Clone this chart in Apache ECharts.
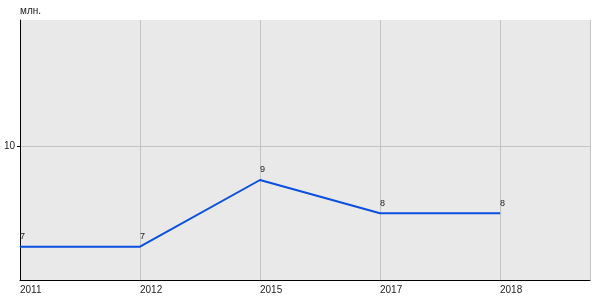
<!DOCTYPE html>
<html><head><meta charset="utf-8">
<script src="https://cdn.jsdelivr.net/npm/echarts@6/dist/echarts.min.js"></script>
<style>html,body{margin:0;padding:0;background:#fff}#c{width:600px;height:300px}</style>
</head><body><div id="c"></div>
<script>
const years = ['2011', '2012', '2015', '2017', '2018'];
const values = [7, 7, 9, 8, 8];
const yTicks = [10];
const unitName = 'млн.';

const chart = echarts.init(document.getElementById('c'), null, {renderer: 'canvas'});
const font = 'Liberation Sans, Arial, sans-serif';
chart.setOption({
  animation: false,
  grid: {left: 20, right: 10, top: 20, bottom: 20, show: true, backgroundColor: '#e9e9e9', borderWidth: 0},
  xAxis: {
    type: 'value', min: 0, max: 4.75, interval: 1,
    axisLine: {show: true, onZero: false, lineStyle: {color: '#000', width: 1}},
    axisTick: {show: false},
    splitLine: {show: true, lineStyle: {color: '#c4c4c4', width: 1}},
    axisLabel: {
      color: '#222', fontSize: 10, fontFamily: font, align: 'left', margin: 5,
      showMaxLabel: false,
      formatter: v => (Number.isInteger(v) && years[v] !== undefined) ? years[v] : ''
    }
  },
  yAxis: {
    type: 'value', min: 6, max: 13.8,
    name: unitName, nameLocation: 'end', nameGap: 4,
    nameTextStyle: {color: '#222', fontSize: 10, fontFamily: font, align: 'left', padding: [0, 0, 0, 0]},
    axisLine: {show: true, lineStyle: {color: '#000', width: 1}},
    axisTick: {show: true, length: 3, customValues: yTicks, lineStyle: {color: '#000'}},
    splitLine: {show: true, lineStyle: {color: '#c4c4c4', width: 1}},
    axisLabel: {color: '#222', fontSize: 10, fontFamily: font, margin: 5, customValues: yTicks}
  },
  series: [{
    type: 'line',
    data: values.map((v, i) => [i, v]),
    showSymbol: true, symbol: 'circle', symbolSize: 1,
    lineStyle: {color: '#0a4fe0', width: 2},
    itemStyle: {color: '#0a4fe0'},
    label: {show: true, position: 'top', align: 'left', distance: 5, color: '#222', fontSize: 9, fontFamily: font}
  }]
});
</script></body></html>
